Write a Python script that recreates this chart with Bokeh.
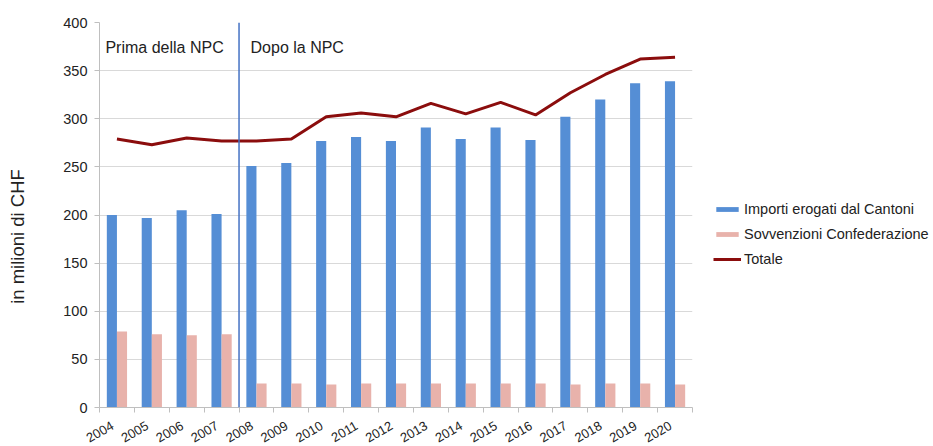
import math
from bokeh.plotting import figure
from bokeh.layouts import row
from bokeh.models import ColumnDataSource, FixedTicker, Legend, LegendItem, Label, Span
from bokeh.embed import file_html
from bokeh.resources import INLINE

# ---- data ----
years = ["2004", "2005", "2006", "2007", "2008", "2009", "2010", "2011", "2012",
         "2013", "2014", "2015", "2016", "2017", "2018", "2019", "2020"]
cantoni = [200, 197, 205, 201, 251, 254, 277, 281, 277, 291, 279, 291, 278, 302, 320, 337, 339]
confederazione = [79, 76, 75, 76, 25, 25, 24, 25, 25, 25, 25, 25, 25, 24, 25, 25, 24]
totale = [279, 273, 280, 277, 277, 279, 302, 306, 302, 316, 305, 317, 304, 327, 346, 362, 364]
y_ticks = [0, 50, 100, 150, 200, 250, 300, 350, 400]

n = len(years)
centers = [i + 0.5 for i in range(n)]
label_pos = [c - 0.13 for c in centers]   # rotated labels end just at the category centre
bounds = list(range(n + 1))
src = ColumnDataSource(dict(
    xc=centers,
    xb=[c - 0.145 for c in centers],
    xp=[c + 0.145 for c in centers],
    cantoni=cantoni, conf=confederazione, tot=totale,
))

BLUE = "#558ED5"
PINK = "#E8B2AB"
RED = "#8B0D0D"
FONT = "Liberation Sans"
TXT = "#222222"
H = 444

# narrow figure holding the y axis title
lab = figure(width=40, height=H, x_range=(0, 1), y_range=(0, 1), x_axis_type=None, y_axis_type=None,
             output_backend="svg", toolbar_location=None, min_border=0)
lab.outline_line_color = None
lab.grid.grid_line_color = None
lab.add_layout(Label(x=17, y=166, x_units="screen", y_units="screen", text="in milioni di CHF",
                     angle=math.pi / 2, text_align="center", text_baseline="middle",
                     text_font=FONT, text_font_size="18.5px", text_color=TXT))

p = figure(frame_width=593, frame_height=385, x_range=(0, n), y_range=(0, 400),
           output_backend="svg", toolbar_location=None,
           min_border_left=59, min_border_top=22, min_border_right=238, min_border_bottom=H - 22 - 385)
p.outline_line_color = None
p.background_fill_color = "white"

r1 = p.vbar(x="xb", top="cantoni", width=0.29, source=src, fill_color=BLUE, line_color=None)
r2 = p.vbar(x="xp", top="conf", width=0.29, source=src, fill_color=PINK, line_color=None)
r3 = p.line(x="xc", y="tot", source=src, line_color=RED, line_width=3)

# vertical separator between 2007 and 2008
p.add_layout(Span(location=4, dimension="height", line_color="#4472C4", line_width=1.5))

# grid
p.xgrid.grid_line_color = None
p.ygrid.grid_line_color = "#D9D9D9"
p.ygrid.grid_line_width = 1

# y axis
p.yaxis.ticker = FixedTicker(ticks=y_ticks)
p.yaxis.axis_line_color = "#BFBFBF"
p.yaxis.major_tick_line_color = "#BFBFBF"
p.yaxis.major_tick_out = 5
p.yaxis.major_tick_in = 0
p.yaxis.minor_tick_line_color = None
p.yaxis.major_label_text_font = FONT
p.yaxis.major_label_text_font_size = "14.5px"
p.yaxis.major_label_text_color = TXT
p.yaxis.major_label_standoff = 7

# x axis: labels near centers, ticks at category boundaries
p.xaxis.ticker = FixedTicker(ticks=label_pos, minor_ticks=bounds)
p.xaxis.major_label_overrides = {c: y for c, y in zip(label_pos, years)}
p.xaxis.axis_line_color = "#BFBFBF"
p.xaxis.major_tick_line_color = None
p.xaxis.major_tick_out = 0
p.xaxis.major_tick_in = 0
p.xaxis.minor_tick_line_color = "#BFBFBF"
p.xaxis.minor_tick_out = 5
p.xaxis.minor_tick_in = 0
p.xaxis.major_label_orientation = math.pi / 6
p.xaxis.major_label_text_font = FONT
p.xaxis.major_label_text_font_size = "13px"
p.xaxis.major_label_text_color = TXT
p.xaxis.major_label_standoff = 12

# annotations
p.add_layout(Label(x=0.17, y=374, text="Prima della NPC", text_baseline="middle",
                   text_font=FONT, text_font_size="16px", text_color=TXT))
p.add_layout(Label(x=4.33, y=374, text="Dopo la NPC", text_baseline="middle",
                   text_font=FONT, text_font_size="16px", text_color=TXT))

legend = Legend(items=[
    LegendItem(label="Importi erogati dal Cantoni", renderers=[r1]),
    LegendItem(label="Sovvenzioni Confederazione", renderers=[r2]),
    LegendItem(label="Totale", renderers=[r3]),
], location=(21, 138))
legend.padding = 0
legend.margin = 0
legend.border_line_color = None
legend.background_fill_alpha = 0
legend.glyph_width = 28
legend.glyph_height = 6
legend.label_height = 21
legend.spacing = 4
legend.label_standoff = 3
legend.label_text_font = FONT
legend.label_text_font_size = "14.5px"
legend.label_text_color = TXT
p.add_layout(legend, "right")

layout = row(lab, p)
open("out.html", "w").write(file_html(layout, INLINE))
